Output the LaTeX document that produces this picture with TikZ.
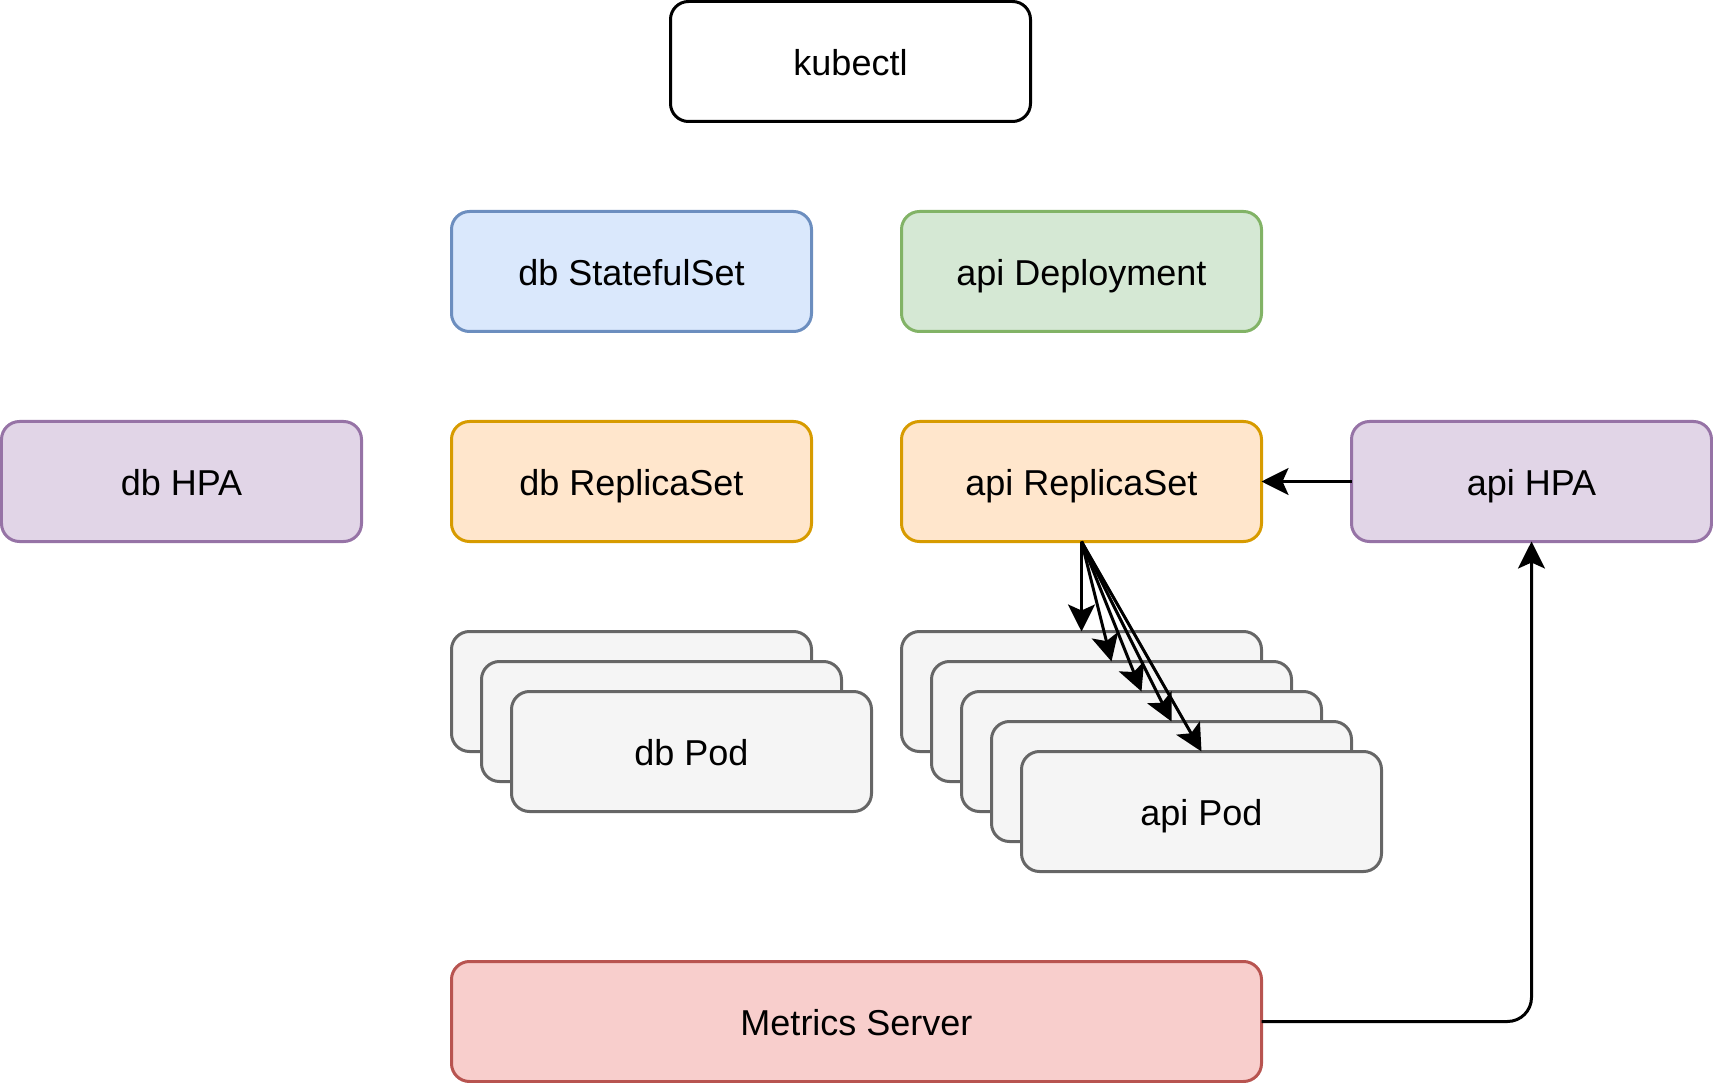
\documentclass[tikz,border=0pt]{standalone}
\usepackage{fontspec}
\setmainfont{Liberation Sans}
\usetikzlibrary{arrows.meta}
\definecolor{bluefill}{HTML}{DAE8FC}\definecolor{bluedraw}{HTML}{6C8EBF}
\definecolor{greenfill}{HTML}{D5E8D4}\definecolor{greendraw}{HTML}{82B366}
\definecolor{orangefill}{HTML}{FFE6CC}\definecolor{orangedraw}{HTML}{D79B00}
\definecolor{purplefill}{HTML}{E1D5E7}\definecolor{purpledraw}{HTML}{9673A6}
\definecolor{redfill}{HTML}{F8CECC}\definecolor{reddraw}{HTML}{B85450}
\definecolor{grayfill}{HTML}{F5F5F5}\definecolor{graydraw}{HTML}{666666}
\tikzset{
  box/.style={draw, rounded corners=6pt, line width=1pt, anchor=north west,
    minimum width=120pt, minimum height=40pt, inner sep=0pt, outer sep=0pt,
    font=\fontsize{12pt}{14pt}\selectfont, text height=9.2pt, text depth=0pt},
  plain/.style={box, fill=white, draw=black},
  bluebox/.style={box, fill=bluefill, draw=bluedraw},
  greenbox/.style={box, fill=greenfill, draw=greendraw},
  orangebox/.style={box, fill=orangefill, draw=orangedraw},
  purplebox/.style={box, fill=purplefill, draw=purpledraw},
  redbox/.style={box, fill=redfill, draw=reddraw},
  podbox/.style={box, fill=grayfill, draw=graydraw},
  conn/.style={draw=black, line width=1pt,
    -{Stealth[length=9pt, width=9pt, inset=2pt]}},
}
\begin{document}
\begin{tikzpicture}[x=1pt, y=-1pt]
\useasboundingbox (-0.5,-0.5) rectangle (570.5,360.5);
\node[plain] (kubectl) at (223,0) {kubectl};
\node[bluebox] (dbss) at (150,70) {db StatefulSet};
\node[greenbox] (apidep) at (300,70) {api Deployment};
\node[purplebox] (dbhpa) at (0,140) {db HPA};
\node[orangebox] (dbrs) at (150,140) {db ReplicaSet};
\node[orangebox] (apirs) at (300,140) {api ReplicaSet};
\node[purplebox] (apihpa) at (450,140) {api HPA};
% db pods
\node[podbox] (dbpod1) at (150,210) {};
\node[podbox] (dbpod2) at (160,220) {};
\node[podbox] (dbpod3) at (170,230) {db Pod};
% api pods
\node[podbox] (apipod1) at (300,210) {};
\node[podbox] (apipod2) at (310,220) {};
\node[podbox] (apipod3) at (320,230) {};
\node[podbox] (apipod4) at (330,240) {};
\node[podbox] (apipod5) at (340,250) {api Pod};
\node[redbox, minimum width=270pt] (ms) at (150,320) {Metrics Server};
% connectors
\draw[conn] (apihpa.west) -- (apirs.east);
\foreach \p in {1,...,5} {
  \draw[conn] (apirs.south) -- (apipod\p.north);
}
\draw[conn, rounded corners=8pt] (ms.east) -| (apihpa.south);
\end{tikzpicture}
\end{document}
